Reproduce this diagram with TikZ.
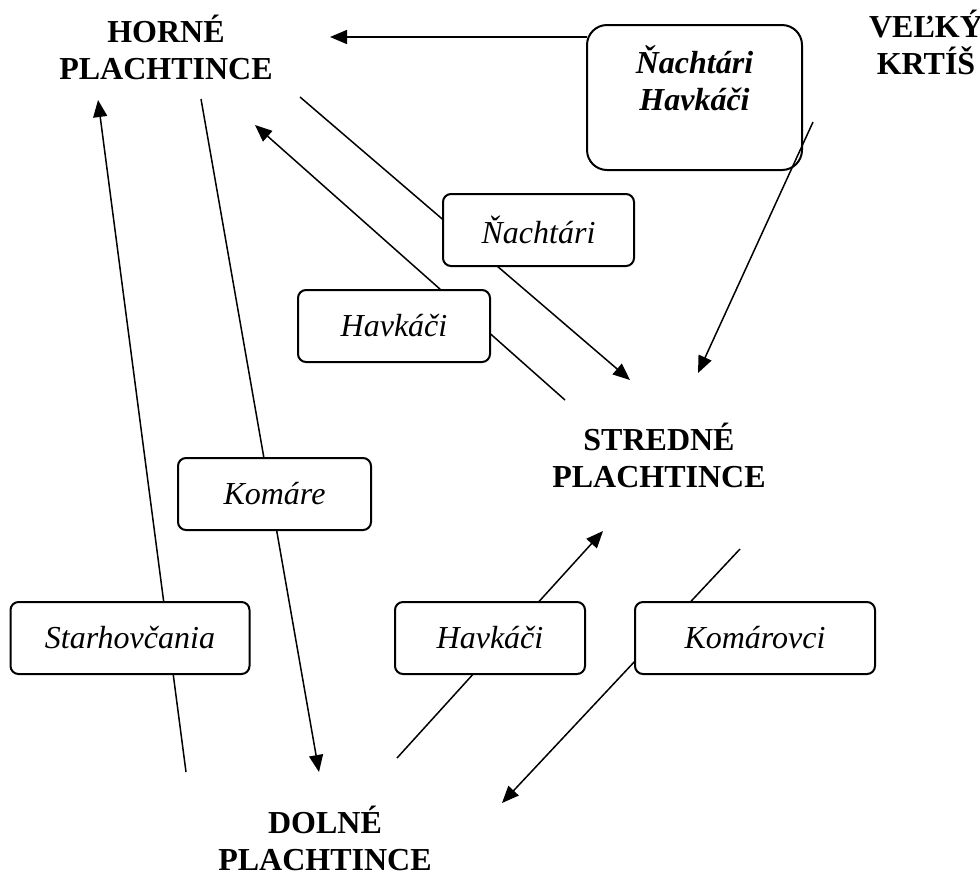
\documentclass[tikz,border=0pt]{standalone}
\usepackage{fontspec}
\setmainfont{Liberation Serif}
\usetikzlibrary{arrows.meta}

\begin{document}
\begin{tikzpicture}[x=0.5pt,y=-0.5pt,
  town/.style={font=\fontsize{16}{18.5}\selectfont\bfseries, align=center, anchor=base, inner sep=0pt},
  tribe/.style={draw, line width=1pt, rounded corners=4pt, fill=white, font=\fontsize{16}{18.5}\selectfont\itshape, align=center, minimum width=#1, minimum height=36pt, inner sep=0pt},
  tribe/.default=96pt,
  mig/.style={line width=0.75pt, -{Triangle[length=8.5pt,width=7pt]}}]
\useasboundingbox (0,0) rectangle (980,875);

% villages
\node[town] (horne) at (166,79) {HORNÉ\\PLACHTINCE};
\node[town] (velky) at (926,74) {VEĽKÝ\\KRTÍŠ};
\node[town] (stredne) at (659,487) {STREDNÉ\\PLACHTINCE};
\node[town] (dolne) at (325,870) {DOLNÉ\\PLACHTINCE};

% line ends
\coordinate (vk-a) at (587,37);  \coordinate (vk-b) at (330,37);
\coordinate (vk-c) at (813,122); \coordinate (vk-d) at (698,373);
\coordinate (hp-a) at (300,97);  \coordinate (hp-b) at (630,380);
\coordinate (sp-a) at (565,400); \coordinate (sp-b) at (255,125);
\coordinate (hp-c) at (201,99);  \coordinate (hp-d) at (319,772);
\coordinate (dp-a) at (186,772); \coordinate (dp-b) at (98,100);
\coordinate (dp-c) at (397,758); \coordinate (dp-d) at (603,531);
\coordinate (sp-c) at (740,549); \coordinate (sp-d) at (502,803);

\draw[mig] (vk-a) -- (vk-b);
\draw[mig] (hp-a) -- (hp-b);
\draw[mig] (sp-a) -- (sp-b);
\draw[mig] (hp-c) -- (hp-d);
\draw[mig] (dp-a) -- (dp-b);
\draw[mig] (dp-c) -- (dp-d);
\draw[mig] (sp-c) -- (sp-d);

% groups on the way
\node[tribe=107.5pt, text height=42.5pt, text depth=30pt, anchor=base, rounded corners=10pt,
  font=\fontsize{16}{18.5}\selectfont\bfseries\itshape] (nachhav) at (694.5,110) {Ňachtári\\Havkáči};
\node[tribe=95.5pt] (nach) at (538.5,230) {Ňachtári};
\node[tribe] (hav) at (394,326) {Havkáči};
\node[tribe=96.5pt] (kom) at (274.5,494) {Komáre};
\node[tribe=119.5pt] (starh) at (130,638) {Starhovčania};
\node[tribe=95pt] (havd) at (490,638) {Havkáči};
\node[tribe=120pt] (komov) at (755,638) {Komárovci};

\draw[mig] (vk-c) -- (vk-d);
\end{tikzpicture}
\end{document}
